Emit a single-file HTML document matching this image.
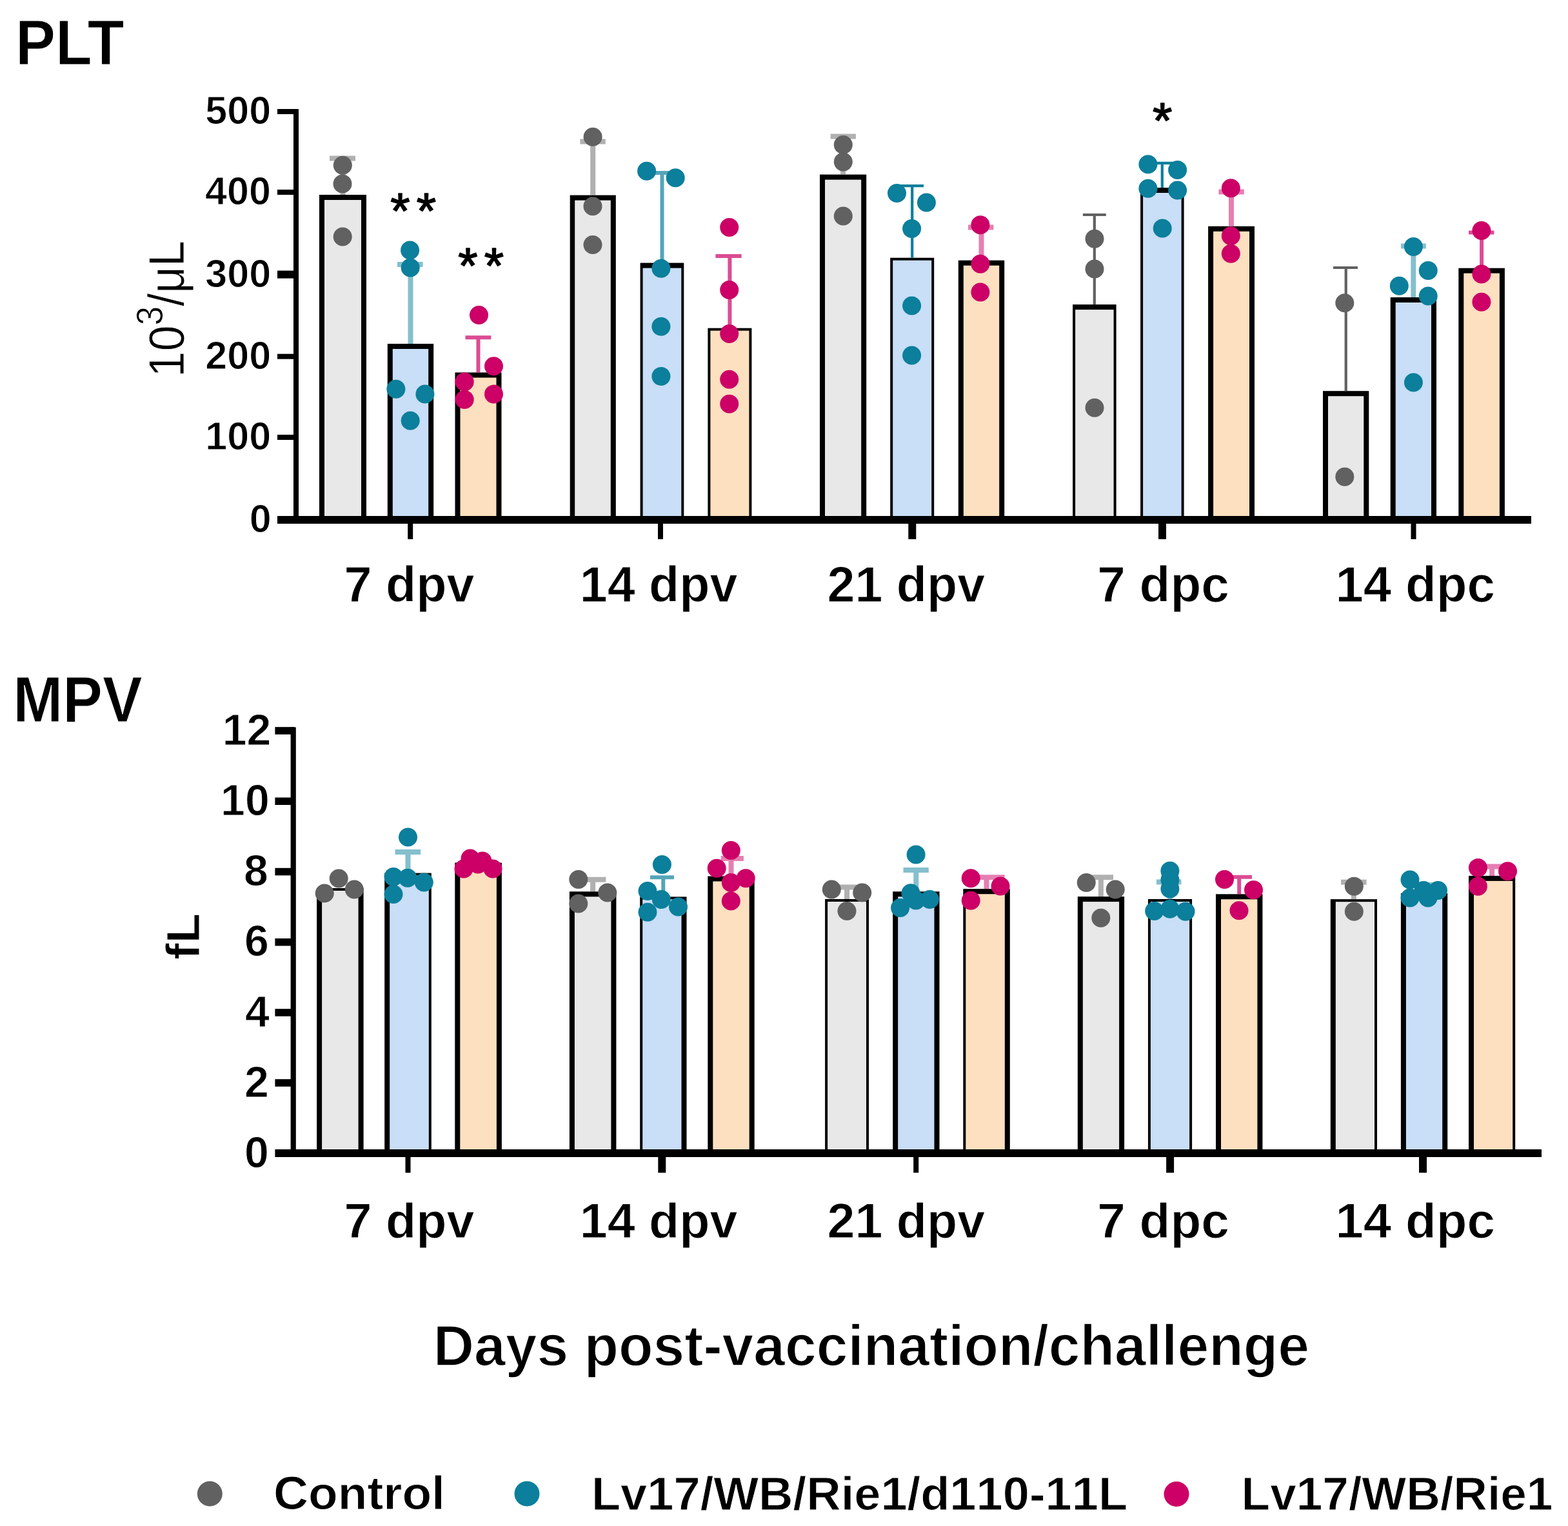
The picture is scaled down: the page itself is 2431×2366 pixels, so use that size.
<!DOCTYPE html>
<html><head><meta charset="utf-8"><title>PLT and MPV</title>
<style>html,body{margin:0;padding:0;background:#fff;overflow:hidden}svg{display:block}text{font-kerning:none;font-feature-settings:'kern' 0}.e{stroke:#fff;stroke-width:1px}.e3{stroke:#fff;stroke-width:1.6px}.e15{stroke:#fff;stroke-width:0.8px}</style>
</head><body>
<svg width="2431" height="2366" viewBox="0 0 2431 2366">
<rect width="2431" height="2366" fill="#fff"/>
<rect x="495" y="302" width="73" height="500" fill="#000"/>
<rect x="503" y="310" width="57" height="492" fill="#e8e8e8"/>
<rect x="600.8" y="533" width="71.4" height="269" fill="#000"/>
<rect x="608.8" y="541" width="55.4" height="261" fill="#c9def7"/>
<rect x="705.5" y="577.5" width="72" height="224.5" fill="#000"/>
<rect x="713.5" y="585.5" width="56" height="216.5" fill="#fde0c0"/>
<rect x="883.7" y="302.6" width="71.1" height="499.4" fill="#000"/>
<rect x="891.2" y="310.6" width="55.6" height="491.4" fill="#e8e8e8"/>
<rect x="992.6" y="407.6" width="67.7" height="394.4" fill="#000"/>
<rect x="996.6" y="415.6" width="59.7" height="386.4" fill="#c9def7"/>
<rect x="1097.4" y="508.7" width="68" height="293.3" fill="#000"/>
<rect x="1101.4" y="512.7" width="60" height="289.3" fill="#fde0c0"/>
<rect x="1271" y="270.6" width="72.2" height="531.4" fill="#000"/>
<rect x="1279" y="278.6" width="56.2" height="523.4" fill="#e8e8e8"/>
<rect x="1380.2" y="399.7" width="68" height="402.3" fill="#000"/>
<rect x="1384.2" y="403.7" width="60" height="398.3" fill="#c9def7"/>
<rect x="1485.8" y="403.7" width="71.4" height="398.3" fill="#000"/>
<rect x="1493.8" y="411.7" width="55.4" height="390.3" fill="#fde0c0"/>
<rect x="1663.1" y="472.1" width="67.5" height="329.9" fill="#000"/>
<rect x="1667.1" y="480.1" width="59.5" height="321.9" fill="#e8e8e8"/>
<rect x="1768.1" y="291" width="67.5" height="511" fill="#000"/>
<rect x="1772.1" y="299" width="59.5" height="503" fill="#c9def7"/>
<rect x="1873.1" y="350.8" width="71.9" height="451.2" fill="#000"/>
<rect x="1881.1" y="358.8" width="55.9" height="443.2" fill="#fde0c0"/>
<rect x="2051" y="606.2" width="71.3" height="195.8" fill="#000"/>
<rect x="2059" y="614.2" width="55.3" height="187.8" fill="#e8e8e8"/>
<rect x="2155.7" y="461" width="71.3" height="341" fill="#000"/>
<rect x="2163.7" y="469" width="55.3" height="333" fill="#c9def7"/>
<rect x="2261.3" y="415.7" width="71.6" height="386.3" fill="#000"/>
<rect x="2269.3" y="423.7" width="55.6" height="378.3" fill="#fde0c0"/>
<path d="M531.5 302V245.4M511 245.4H551" stroke="#616161" stroke-opacity="0.5" stroke-width="8" fill="none"/>
<path d="M636.5 533V410M616 410H655.6" stroke="#0b7f9b" stroke-opacity="0.5" stroke-width="8" fill="none"/>
<path d="M741.5 577.5V523.2M721.5 523.2H761.4" stroke="#cc0066" stroke-opacity="0.7" stroke-width="6" fill="none"/>
<path d="M919.2 302.6V219.4M899.4 219.4H938.8" stroke="#616161" stroke-opacity="0.5" stroke-width="8" fill="none"/>
<path d="M1026.5 407.6V268M1005 268H1045" stroke="#0b7f9b" stroke-opacity="0.7" stroke-width="6" fill="none"/>
<path d="M1131.4 508.7V396.9M1109.4 396.9H1149.6" stroke="#cc0066" stroke-opacity="0.7" stroke-width="6" fill="none"/>
<path d="M1307.1 270.6V211.5M1287.6 211.5H1326.9" stroke="#616161" stroke-opacity="0.5" stroke-width="8" fill="none"/>
<path d="M1414.2 399.7V288.2M1393 288.2H1432" stroke="#0b7f9b" stroke-opacity="1.0" stroke-width="4.2" fill="none"/>
<path d="M1521.5 403.7V352.5M1501 352.5H1540.4" stroke="#cc0066" stroke-opacity="0.5" stroke-width="8" fill="none"/>
<path d="M1696.8 472.1V333M1678.9 333H1714.8" stroke="#616161" stroke-opacity="1.0" stroke-width="4.2" fill="none"/>
<path d="M1801.8 291V252.9M1783 252.9H1822" stroke="#0b7f9b" stroke-opacity="1.0" stroke-width="4.2" fill="none"/>
<path d="M1909 350.8V297.5M1889.4 297.5H1928.8" stroke="#cc0066" stroke-opacity="0.5" stroke-width="8" fill="none"/>
<path d="M2086.7 606.2V415M2067 415H2105" stroke="#616161" stroke-opacity="1.0" stroke-width="4.2" fill="none"/>
<path d="M2191.3 461V381.5M2171.9 381.5H2210.9" stroke="#0b7f9b" stroke-opacity="0.5" stroke-width="8" fill="none"/>
<path d="M2297.1 415.7V360.6M2277 360.6H2316.4" stroke="#cc0066" stroke-opacity="0.7" stroke-width="6" fill="none"/>
<circle cx="531.3" cy="256.3" r="14.5" fill="#616161"/>
<circle cx="531" cy="284.9" r="14.5" fill="#616161"/>
<circle cx="531.2" cy="367" r="14.5" fill="#616161"/>
<circle cx="635.6" cy="387.9" r="14.5" fill="#0b7f9b"/>
<circle cx="636.2" cy="414.9" r="14.5" fill="#0b7f9b"/>
<circle cx="613.9" cy="603.2" r="14.5" fill="#0b7f9b"/>
<circle cx="658.9" cy="611.1" r="14.5" fill="#0b7f9b"/>
<circle cx="636.2" cy="652.3" r="14.5" fill="#0b7f9b"/>
<circle cx="742.5" cy="488.4" r="14.5" fill="#cc0066"/>
<circle cx="765.5" cy="567.8" r="14.5" fill="#cc0066"/>
<circle cx="720.2" cy="592" r="14.5" fill="#cc0066"/>
<circle cx="720.2" cy="619.5" r="14.5" fill="#cc0066"/>
<circle cx="765.5" cy="611.1" r="14.5" fill="#cc0066"/>
<circle cx="919.1" cy="212.2" r="14.5" fill="#616161"/>
<circle cx="919" cy="319.8" r="14.5" fill="#616161"/>
<circle cx="919" cy="379.5" r="14.5" fill="#616161"/>
<circle cx="1002.6" cy="265.3" r="14.5" fill="#0b7f9b"/>
<circle cx="1047.2" cy="275.8" r="14.5" fill="#0b7f9b"/>
<circle cx="1024.9" cy="416.3" r="14.5" fill="#0b7f9b"/>
<circle cx="1024.9" cy="506.3" r="14.5" fill="#0b7f9b"/>
<circle cx="1024.9" cy="583.5" r="14.5" fill="#0b7f9b"/>
<circle cx="1130.7" cy="352.5" r="14.5" fill="#cc0066"/>
<circle cx="1130.7" cy="449.6" r="14.5" fill="#cc0066"/>
<circle cx="1130.7" cy="517.4" r="14.5" fill="#cc0066"/>
<circle cx="1130.7" cy="588.2" r="14.5" fill="#cc0066"/>
<circle cx="1130.7" cy="626.3" r="14.5" fill="#cc0066"/>
<circle cx="1307.3" cy="224.6" r="14.5" fill="#616161"/>
<circle cx="1307.3" cy="250.9" r="14.5" fill="#616161"/>
<circle cx="1307.3" cy="334.9" r="14.5" fill="#616161"/>
<circle cx="1390.5" cy="299.5" r="14.5" fill="#0b7f9b"/>
<circle cx="1436.4" cy="313.9" r="14.5" fill="#0b7f9b"/>
<circle cx="1413.6" cy="354.6" r="14.5" fill="#0b7f9b"/>
<circle cx="1413.6" cy="474" r="14.5" fill="#0b7f9b"/>
<circle cx="1413.6" cy="551" r="14.5" fill="#0b7f9b"/>
<circle cx="1519.9" cy="348.8" r="14.5" fill="#cc0066"/>
<circle cx="1519.9" cy="409.2" r="14.5" fill="#cc0066"/>
<circle cx="1519.9" cy="453" r="14.5" fill="#cc0066"/>
<circle cx="1697" cy="370.2" r="14.5" fill="#616161"/>
<circle cx="1697" cy="417" r="14.5" fill="#616161"/>
<circle cx="1697" cy="632.3" r="14.5" fill="#616161"/>
<circle cx="1779.9" cy="254.7" r="14.5" fill="#0b7f9b"/>
<circle cx="1825.6" cy="263.4" r="14.5" fill="#0b7f9b"/>
<circle cx="1779.9" cy="292.3" r="14.5" fill="#0b7f9b"/>
<circle cx="1825.6" cy="294.9" r="14.5" fill="#0b7f9b"/>
<circle cx="1802.2" cy="354" r="14.5" fill="#0b7f9b"/>
<circle cx="1908.3" cy="291.7" r="14.5" fill="#cc0066"/>
<circle cx="1908.3" cy="365.8" r="14.5" fill="#cc0066"/>
<circle cx="1908.3" cy="393.3" r="14.5" fill="#cc0066"/>
<circle cx="2084.8" cy="469.8" r="14.5" fill="#616161"/>
<circle cx="2084.8" cy="739.3" r="14.5" fill="#616161"/>
<circle cx="2191.4" cy="382.6" r="14.5" fill="#0b7f9b"/>
<circle cx="2214.2" cy="419.4" r="14.5" fill="#0b7f9b"/>
<circle cx="2169.3" cy="443.3" r="14.5" fill="#0b7f9b"/>
<circle cx="2214.2" cy="459.1" r="14.5" fill="#0b7f9b"/>
<circle cx="2191.4" cy="592.9" r="14.5" fill="#0b7f9b"/>
<circle cx="2296.9" cy="357.6" r="14.5" fill="#cc0066"/>
<circle cx="2296.9" cy="425" r="14.5" fill="#cc0066"/>
<circle cx="2296.9" cy="468.3" r="14.5" fill="#cc0066"/>
<rect x="491.1" y="1377" width="72.5" height="407" fill="#000"/>
<rect x="499.1" y="1381" width="56.5" height="403" fill="#e8e8e8"/>
<rect x="596.2" y="1353.6" width="72.6" height="430.4" fill="#000"/>
<rect x="604.2" y="1357.6" width="60.6" height="426.4" fill="#c9def7"/>
<rect x="705.3" y="1337.6" width="72.6" height="446.4" fill="#000"/>
<rect x="713.3" y="1345.6" width="56.6" height="438.4" fill="#fde0c0"/>
<rect x="882.9" y="1382.3" width="72.5" height="401.7" fill="#000"/>
<rect x="890.9" y="1390.3" width="56.5" height="393.7" fill="#e8e8e8"/>
<rect x="992.2" y="1390.4" width="72.3" height="393.6" fill="#000"/>
<rect x="996.2" y="1394.4" width="60.3" height="389.6" fill="#c9def7"/>
<rect x="1097.3" y="1358.5" width="72.4" height="425.5" fill="#000"/>
<rect x="1105.3" y="1366.5" width="56.4" height="417.5" fill="#fde0c0"/>
<rect x="1279.1" y="1394" width="67.9" height="390" fill="#000"/>
<rect x="1283.1" y="1398" width="59.9" height="386" fill="#e8e8e8"/>
<rect x="1384.2" y="1382.3" width="72.3" height="401.7" fill="#000"/>
<rect x="1392.2" y="1390.3" width="56.3" height="393.7" fill="#c9def7"/>
<rect x="1493.3" y="1378.2" width="72.5" height="405.8" fill="#000"/>
<rect x="1497.3" y="1386.2" width="60.5" height="397.8" fill="#fde0c0"/>
<rect x="1670.8" y="1390.1" width="72.3" height="393.9" fill="#000"/>
<rect x="1678.8" y="1398.1" width="56.3" height="385.9" fill="#e8e8e8"/>
<rect x="1779.9" y="1394" width="68.2" height="390" fill="#000"/>
<rect x="1783.9" y="1398" width="60.2" height="386" fill="#c9def7"/>
<rect x="1885" y="1386.3" width="72.4" height="397.7" fill="#000"/>
<rect x="1893" y="1394.3" width="56.4" height="389.7" fill="#fde0c0"/>
<rect x="2062.8" y="1394.2" width="72.2" height="389.8" fill="#000"/>
<rect x="2070.8" y="1398.2" width="60.2" height="385.8" fill="#e8e8e8"/>
<rect x="2171.9" y="1385" width="72.3" height="399" fill="#000"/>
<rect x="2179.9" y="1393" width="56.3" height="391" fill="#c9def7"/>
<rect x="2277" y="1357.9" width="72.2" height="426.1" fill="#000"/>
<rect x="2285" y="1365.9" width="60.2" height="418.1" fill="#fde0c0"/>
<path d="M632.5 1353.6V1321M612.6 1321H652.2" stroke="#0b7f9b" stroke-opacity="0.5" stroke-width="8" fill="none"/>
<path d="M919.1 1382.3V1363.8M900 1363.8H939.4" stroke="#616161" stroke-opacity="0.5" stroke-width="8" fill="none"/>
<path d="M1028.3 1390.4V1360.2M1008 1360.2H1044.9" stroke="#0b7f9b" stroke-opacity="0.7" stroke-width="6" fill="none"/>
<path d="M1133.5 1358.5V1331M1117.7 1331H1152.9" stroke="#cc0066" stroke-opacity="0.5" stroke-width="8" fill="none"/>
<path d="M1313 1394V1375.4M1296 1375.4H1330" stroke="#616161" stroke-opacity="0.5" stroke-width="8" fill="none"/>
<path d="M1420.3 1382.3V1349M1400.5 1349H1439.8" stroke="#0b7f9b" stroke-opacity="0.5" stroke-width="8" fill="none"/>
<path d="M1529.5 1378.2V1360.2M1518 1360.2H1557.6" stroke="#cc0066" stroke-opacity="0.5" stroke-width="8" fill="none"/>
<path d="M1706.9 1390.1V1360.2M1687 1360.2H1726" stroke="#616161" stroke-opacity="0.5" stroke-width="8" fill="none"/>
<path d="M1814 1394V1367.5M1793 1367.5H1831.4" stroke="#0b7f9b" stroke-opacity="0.5" stroke-width="8" fill="none"/>
<path d="M1921.2 1386.3V1359.7M1902 1359.7H1941" stroke="#cc0066" stroke-opacity="0.7" stroke-width="6" fill="none"/>
<path d="M2098.9 1394.2V1367.7M2079 1367.7H2118.6" stroke="#616161" stroke-opacity="0.5" stroke-width="8" fill="none"/>
<path d="M2208.1 1385V1372M2190 1372H2226" stroke="#0b7f9b" stroke-opacity="0.5" stroke-width="8" fill="none"/>
<path d="M2313.1 1357.9V1343.5M2296 1343.5H2336" stroke="#cc0066" stroke-opacity="0.5" stroke-width="8" fill="none"/>
<circle cx="503.2" cy="1384.9" r="14.5" fill="#616161"/>
<circle cx="525.2" cy="1362.1" r="14.5" fill="#616161"/>
<circle cx="549.3" cy="1378.9" r="14.5" fill="#616161"/>
<circle cx="632.5" cy="1298" r="14.5" fill="#0b7f9b"/>
<circle cx="610" cy="1359.5" r="14.5" fill="#0b7f9b"/>
<circle cx="632" cy="1361.2" r="14.5" fill="#0b7f9b"/>
<circle cx="657.3" cy="1368" r="14.5" fill="#0b7f9b"/>
<circle cx="610" cy="1386.5" r="14.5" fill="#0b7f9b"/>
<circle cx="719" cy="1347" r="14.5" fill="#cc0066"/>
<circle cx="729" cy="1331" r="14.5" fill="#cc0066"/>
<circle cx="741" cy="1340" r="14.5" fill="#cc0066"/>
<circle cx="748" cy="1335" r="14.5" fill="#cc0066"/>
<circle cx="764" cy="1347" r="14.5" fill="#cc0066"/>
<circle cx="896.8" cy="1363.4" r="14.5" fill="#616161"/>
<circle cx="941.8" cy="1383.9" r="14.5" fill="#616161"/>
<circle cx="896.8" cy="1401.1" r="14.5" fill="#616161"/>
<circle cx="1026.4" cy="1340.5" r="14.5" fill="#0b7f9b"/>
<circle cx="1004" cy="1381.4" r="14.5" fill="#0b7f9b"/>
<circle cx="1025.3" cy="1394.6" r="14.5" fill="#0b7f9b"/>
<circle cx="1051.5" cy="1406" r="14.5" fill="#0b7f9b"/>
<circle cx="1004" cy="1414.2" r="14.5" fill="#0b7f9b"/>
<circle cx="1133.3" cy="1318.5" r="14.5" fill="#cc0066"/>
<circle cx="1111.2" cy="1346.3" r="14.5" fill="#cc0066"/>
<circle cx="1156.2" cy="1361.8" r="14.5" fill="#cc0066"/>
<circle cx="1133.3" cy="1368.4" r="14.5" fill="#cc0066"/>
<circle cx="1133.3" cy="1397" r="14.5" fill="#cc0066"/>
<circle cx="1289.3" cy="1379" r="14.5" fill="#616161"/>
<circle cx="1336.7" cy="1383.9" r="14.5" fill="#616161"/>
<circle cx="1313" cy="1412.5" r="14.5" fill="#616161"/>
<circle cx="1420.1" cy="1325" r="14.5" fill="#0b7f9b"/>
<circle cx="1412" cy="1384.7" r="14.5" fill="#0b7f9b"/>
<circle cx="1441.4" cy="1394.5" r="14.5" fill="#0b7f9b"/>
<circle cx="1395.6" cy="1407.6" r="14.5" fill="#0b7f9b"/>
<circle cx="1420" cy="1396" r="14.5" fill="#0b7f9b"/>
<circle cx="1505.2" cy="1361.8" r="14.5" fill="#cc0066"/>
<circle cx="1551" cy="1374.1" r="14.5" fill="#cc0066"/>
<circle cx="1505.2" cy="1396.2" r="14.5" fill="#cc0066"/>
<circle cx="1684.2" cy="1368.4" r="14.5" fill="#616161"/>
<circle cx="1729.2" cy="1379" r="14.5" fill="#616161"/>
<circle cx="1706.8" cy="1423.2" r="14.5" fill="#616161"/>
<circle cx="1813.9" cy="1350.3" r="14.5" fill="#0b7f9b"/>
<circle cx="1813.9" cy="1364" r="14.5" fill="#0b7f9b"/>
<circle cx="1813.9" cy="1378" r="14.5" fill="#0b7f9b"/>
<circle cx="1789.7" cy="1412.5" r="14.5" fill="#0b7f9b"/>
<circle cx="1813.9" cy="1409.2" r="14.5" fill="#0b7f9b"/>
<circle cx="1838" cy="1413.3" r="14.5" fill="#0b7f9b"/>
<circle cx="1898.5" cy="1363.4" r="14.5" fill="#cc0066"/>
<circle cx="1943.5" cy="1379.8" r="14.5" fill="#cc0066"/>
<circle cx="1921" cy="1411.7" r="14.5" fill="#cc0066"/>
<circle cx="2099.3" cy="1374.3" r="14.5" fill="#616161"/>
<circle cx="2099.3" cy="1413.3" r="14.5" fill="#616161"/>
<circle cx="2186" cy="1364" r="14.5" fill="#0b7f9b"/>
<circle cx="2229.5" cy="1380.5" r="14.5" fill="#0b7f9b"/>
<circle cx="2207" cy="1380.5" r="14.5" fill="#0b7f9b"/>
<circle cx="2186" cy="1392" r="14.5" fill="#0b7f9b"/>
<circle cx="2214" cy="1392" r="14.5" fill="#0b7f9b"/>
<circle cx="2291.4" cy="1345.6" r="14.5" fill="#cc0066"/>
<circle cx="2337.5" cy="1350.7" r="14.5" fill="#cc0066"/>
<circle cx="2291.4" cy="1374.3" r="14.5" fill="#cc0066"/>
<rect x="455" y="169" width="8" height="637" fill="#000"/>
<rect x="430" y="800" width="1944" height="12" fill="#000"/>
<rect x="430" y="169" width="28" height="8" fill="#000"/>
<rect x="430" y="294" width="28" height="8" fill="#000"/>
<rect x="430" y="419.6" width="28" height="12" fill="#000"/>
<rect x="430" y="548.7" width="28" height="8" fill="#000"/>
<rect x="430" y="674" width="28" height="8" fill="#000"/>
<rect x="632.2" y="808" width="8" height="28" fill="#000"/>
<rect x="1020" y="808" width="8" height="28" fill="#000"/>
<rect x="1408.3" y="808" width="12" height="28" fill="#000"/>
<rect x="1796" y="808" width="12" height="28" fill="#000"/>
<rect x="2187.5" y="808" width="8" height="28" fill="#000"/>
<rect x="450.6" y="1127.5" width="8.2" height="660" fill="#000"/>
<rect x="426.4" y="1782" width="1963.6" height="12" fill="#000"/>
<rect x="426.4" y="1127.2" width="30" height="11.5" fill="#000"/>
<rect x="426.4" y="1236.5" width="30" height="11.5" fill="#000"/>
<rect x="426.4" y="1345.8" width="30" height="11.5" fill="#000"/>
<rect x="426.4" y="1455" width="30" height="11.5" fill="#000"/>
<rect x="426.4" y="1564.2" width="30" height="11.5" fill="#000"/>
<rect x="426.4" y="1673.2" width="30" height="11.5" fill="#000"/>
<rect x="628.5" y="1790" width="8" height="28.3" fill="#000"/>
<rect x="1020.3" y="1790" width="12" height="28.3" fill="#000"/>
<rect x="1416.2" y="1790" width="8" height="28.3" fill="#000"/>
<rect x="1808.1" y="1790" width="12" height="28.3" fill="#000"/>
<rect x="2200" y="1790" width="12" height="28.3" fill="#000"/>
<text class="e" transform="translate(23.96 99.70) scale(0.9388 1)" font-family="'Liberation Sans', Arial, Helvetica, sans-serif" font-weight="bold" font-size="98.99" style="font-kerning:normal;font-feature-settings:normal">PLT</text>
<text class="e" transform="translate(20.29 1118.80) scale(0.9300 1)" font-family="'Liberation Sans', Arial, Helvetica, sans-serif" font-weight="bold" font-size="99.42" style="font-kerning:normal;font-feature-settings:normal">MPV</text>
<text x="420.10" y="192.3" font-family="'Liberation Sans', Arial, Helvetica, sans-serif" font-weight="bold" class="e" font-size="61" text-anchor="end">500</text>
<text x="419.90" y="317.3" font-family="'Liberation Sans', Arial, Helvetica, sans-serif" font-weight="bold" class="e" font-size="61" text-anchor="end">400</text>
<text x="420.10" y="444.9" font-family="'Liberation Sans', Arial, Helvetica, sans-serif" font-weight="bold" class="e" font-size="61" text-anchor="end">300</text>
<text x="420.10" y="572" font-family="'Liberation Sans', Arial, Helvetica, sans-serif" font-weight="bold" class="e" font-size="61" text-anchor="end">200</text>
<text x="420.10" y="697.3" font-family="'Liberation Sans', Arial, Helvetica, sans-serif" font-weight="bold" class="e" font-size="61" text-anchor="end">100</text>
<text x="420.60" y="825.3" font-family="'Liberation Sans', Arial, Helvetica, sans-serif" font-weight="bold" class="e" font-size="61" text-anchor="end">0</text>
<text x="420.36" y="1154.5" font-family="'Liberation Sans', Arial, Helvetica, sans-serif" font-weight="bold" class="e" font-size="68" text-anchor="end">12</text>
<text x="417.76" y="1263.5" font-family="'Liberation Sans', Arial, Helvetica, sans-serif" font-weight="bold" class="e" font-size="68" text-anchor="end">10</text>
<text x="415.71" y="1373" font-family="'Liberation Sans', Arial, Helvetica, sans-serif" font-weight="bold" class="e" font-size="68" text-anchor="end">8</text>
<text x="416.85" y="1482.2" font-family="'Liberation Sans', Arial, Helvetica, sans-serif" font-weight="bold" class="e" font-size="68" text-anchor="end">6</text>
<text x="417.81" y="1591.5" font-family="'Liberation Sans', Arial, Helvetica, sans-serif" font-weight="bold" class="e" font-size="68" text-anchor="end">4</text>
<text x="416.79" y="1700.5" font-family="'Liberation Sans', Arial, Helvetica, sans-serif" font-weight="bold" class="e" font-size="68" text-anchor="end">2</text>
<text x="416.79" y="1810" font-family="'Liberation Sans', Arial, Helvetica, sans-serif" font-weight="bold" class="e" font-size="68" text-anchor="end">0</text>
<text class="e" transform="translate(533.52 932.60) scale(1.0013 1)" font-family="'Liberation Sans', Arial, Helvetica, sans-serif" font-weight="bold" font-size="77.24">7 dpv</text>
<text class="e" transform="translate(533.52 1918.90) scale(1.0067 1)" font-family="'Liberation Sans', Arial, Helvetica, sans-serif" font-weight="bold" font-size="76.83">7 dpv</text>
<text class="e" transform="translate(898.68 932.60) scale(1.0006 1)" font-family="'Liberation Sans', Arial, Helvetica, sans-serif" font-weight="bold" font-size="77.24">14 dpv</text>
<text class="e" transform="translate(898.68 1918.90) scale(1.0060 1)" font-family="'Liberation Sans', Arial, Helvetica, sans-serif" font-weight="bold" font-size="76.83">14 dpv</text>
<text class="e" transform="translate(1282.50 932.60) scale(0.9997 1)" font-family="'Liberation Sans', Arial, Helvetica, sans-serif" font-weight="bold" font-size="77.24">21 dpv</text>
<text class="e" transform="translate(1282.50 1918.90) scale(1.0051 1)" font-family="'Liberation Sans', Arial, Helvetica, sans-serif" font-weight="bold" font-size="76.83">21 dpv</text>
<text class="e" transform="translate(1701.17 932.60) scale(1.0148 1)" font-family="'Liberation Sans', Arial, Helvetica, sans-serif" font-weight="bold" font-size="77.24">7 dpc</text>
<text class="e" transform="translate(1701.17 1918.90) scale(1.0202 1)" font-family="'Liberation Sans', Arial, Helvetica, sans-serif" font-weight="bold" font-size="76.83">7 dpc</text>
<text class="e" transform="translate(2070.42 932.60) scale(1.0113 1)" font-family="'Liberation Sans', Arial, Helvetica, sans-serif" font-weight="bold" font-size="77.24">14 dpc</text>
<text class="e" transform="translate(2070.42 1918.90) scale(1.0167 1)" font-family="'Liberation Sans', Arial, Helvetica, sans-serif" font-weight="bold" font-size="76.83">14 dpc</text>
<text class="e3" transform="translate(671.81 2117.40) scale(0.9862 1)" font-family="'Liberation Sans', Arial, Helvetica, sans-serif" font-weight="bold" font-size="88.83">Days post-vaccination/challenge</text>
<text class="e15" transform="translate(284.5 584.7) rotate(-90) scale(0.937 1)" font-family="'Liberation Sans', Arial, Helvetica, sans-serif" font-size="77" style="font-kerning:none;font-feature-settings:'kern' 0">10<tspan font-size="57" dy="-33">3</tspan><tspan dy="33">/μL</tspan></text>
<text class="e" transform="translate(308.80 1487.84) rotate(-90) scale(1.0627 1)" font-family="'Liberation Sans', Arial, Helvetica, sans-serif" font-weight="bold" font-size="71.72">fL</text>
<text x="605.19" y="354.47" font-family="'Liberation Sans', Arial, Helvetica, sans-serif" font-size="78" stroke="#000" stroke-width="1.6" stroke-linejoin="round">*</text>
<text x="645.78" y="354.47" font-family="'Liberation Sans', Arial, Helvetica, sans-serif" font-size="78" stroke="#000" stroke-width="1.6" stroke-linejoin="round">*</text>
<text x="710.19" y="439.37" font-family="'Liberation Sans', Arial, Helvetica, sans-serif" font-size="78" stroke="#000" stroke-width="1.6" stroke-linejoin="round">*</text>
<text x="750.78" y="439.37" font-family="'Liberation Sans', Arial, Helvetica, sans-serif" font-size="78" stroke="#000" stroke-width="1.6" stroke-linejoin="round">*</text>
<text x="1787.08" y="213.67" font-family="'Liberation Sans', Arial, Helvetica, sans-serif" font-size="78" stroke="#000" stroke-width="1.6" stroke-linejoin="round">*</text>
<circle cx="325.3" cy="2316" r="19.5" fill="#616161"/>
<circle cx="817" cy="2316" r="19.5" fill="#0b7f9b"/>
<circle cx="1824" cy="2316.5" r="19.5" fill="#cc0066"/>
<text class="e" transform="translate(424.01 2340.30) scale(1.0370 1)" font-family="'Liberation Sans', Arial, Helvetica, sans-serif" font-weight="bold" font-size="72.14">Control</text>
<text class="e" transform="translate(916.89 2340.50) scale(1.0247 1)" font-family="'Liberation Sans', Arial, Helvetica, sans-serif" font-weight="bold" font-size="72.28">Lv17/WB/Rie1/d110-11L</text>
<text class="e" transform="translate(1924.55 2340.50) scale(1.0103 1)" font-family="'Liberation Sans', Arial, Helvetica, sans-serif" font-weight="bold" font-size="72.28">Lv17/WB/Rie1</text>
</svg>
</body></html>
